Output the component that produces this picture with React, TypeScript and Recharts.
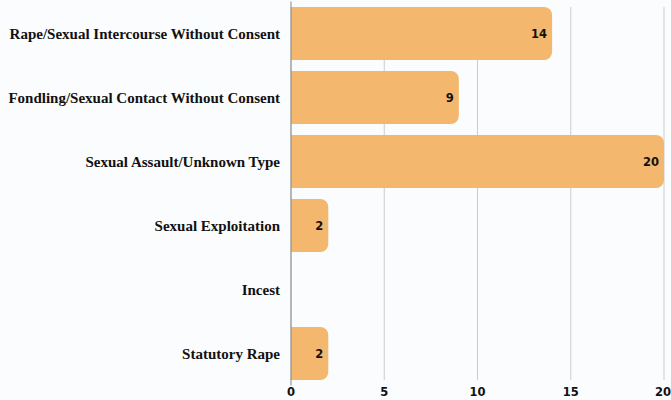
import React from 'react';
import { BarChart, Bar, XAxis, YAxis, CartesianGrid, LabelList } from 'recharts';

// incident types and counts
const categories = [
  'Rape/Sexual Intercourse Without Consent',
  'Fondling/Sexual Contact Without Consent',
  'Sexual Assault/Unknown Type',
  'Sexual Exploitation',
  'Incest',
  'Statutory Rape',
];
const counts = [14, 9, 20, 2, 0, 2];
const xTicks = [0, 5, 10, 15, 20];

const data = categories.map((name, i) => ({ name, count: counts[i] }));

const numberFont = '"DejaVu Sans", sans-serif';

document.body.style.margin = '0';
document.body.style.background = '#fbfcfe';

export default function App() {
  return (
    <div style={{ width: 671, height: 400, background: '#fbfcfe' }}>
      <BarChart
        width={671}
        height={400}
        data={data}
        layout="vertical"
        margin={{ top: 1.5, right: 7, bottom: 0, left: 0 }}
        barCategoryGap={5.5}
      >
        <CartesianGrid horizontal={false} stroke="#cccccc" y={7} height={373} />
        <XAxis
          type="number"
          domain={[0, 20]}
          ticks={xTicks}
          axisLine={false}
          tickLine={false}
          tickSize={0}
          tickMargin={2}
          height={14.5}
          tick={{ fill: '#111', fontSize: 11.5, fontWeight: 'bold', fontFamily: numberFont }}
        />
        <YAxis
          type="category"
          dataKey="name"
          width={291}
          axisLine={{ stroke: '#888888' }}
          tickLine={false}
          tickSize={0}
          tickMargin={11}
          interval={0}
          tick={{ fill: '#111', fontSize: 15, fontWeight: 'bold', fontFamily: '"Liberation Serif", serif' }}
        />
        <Bar dataKey="count" fill="#f3b86d" radius={[0, 8, 8, 0]} isAnimationActive={false}>
          <LabelList
            dataKey="count"
            position="insideRight"
            offset={5}
            formatter={(v: any) => (v ? v : '')}
            style={{ fill: '#111', fontSize: 11.5, fontWeight: 'bold', fontFamily: numberFont }}
          />
        </Bar>
      </BarChart>
    </div>
  );
}
